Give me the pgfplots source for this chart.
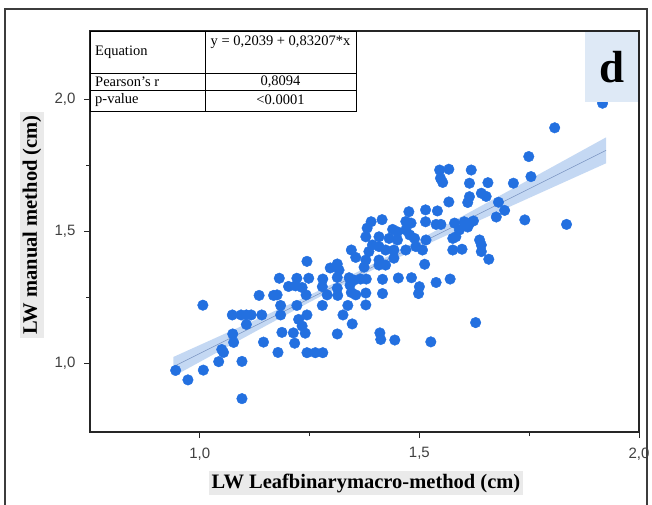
\documentclass[border=0pt]{standalone}
\usepackage{pgfplots}
\pgfplotsset{compat=1.18}
\usepackage{fontspec}
\setmainfont{Liberation Serif}
\newfontfamily\arial{Liberation Sans}

\definecolor{ptblue}{RGB}{35,112,224}
\definecolor{bandblue}{RGB}{196,216,243}
\definecolor{fitline}{RGB}{125,150,195}
\definecolor{dbox}{RGB}{222,233,246}
\definecolor{labelbg}{RGB}{234,234,234}
\definecolor{framegray}{RGB}{60,60,60}

% leaf width: Leafbinarymacro method (x) vs manual method (y), cm
\pgfplotstableread{
x y
0.945 0.972
0.973 0.936
1.008 0.973
1.007 1.219
1.043 1.005
1.050 1.051
1.054 1.040
1.075 1.110
1.077 1.078
1.096 1.006
1.096 0.865
1.074 1.182
1.094 1.182
1.106 1.182
1.117 1.182
1.141 1.182
1.106 1.146
1.145 1.079
1.135 1.256
1.168 1.256
1.176 1.258
1.181 1.321
1.202 1.290
1.218 1.292
1.233 1.286
1.184 1.218
1.184 1.182
1.221 1.218
1.225 1.165
1.233 1.140
1.187 1.116
1.213 1.114
1.178 1.040
1.216 1.075
1.221 1.321
1.244 1.385
1.248 1.321
1.242 1.258
1.244 1.182
1.240 1.113
1.244 1.039
1.263 1.039
1.280 1.039
1.279 1.218
1.279 1.289
1.280 1.318
1.297 1.360
1.313 1.375
1.317 1.352
1.313 1.324
1.313 1.283
1.290 1.258
1.314 1.256
1.313 1.110
1.326 1.182
1.347 1.148
1.337 1.218
1.340 1.323
1.351 1.314
1.366 1.318
1.379 1.318
1.342 1.295
1.345 1.267
1.355 1.258
1.378 1.265
1.378 1.220
1.416 1.263
1.410 1.114
1.412 1.089
1.444 1.087
1.345 1.428
1.355 1.400
1.378 1.478
1.381 1.511
1.390 1.535
1.415 1.543
1.385 1.422
1.393 1.447
1.408 1.441
1.423 1.428
1.408 1.478
1.431 1.472
1.450 1.466
1.439 1.506
1.450 1.497
1.469 1.536
1.481 1.530
1.476 1.573
1.469 1.504
1.478 1.485
1.489 1.472
1.442 1.428
1.469 1.428
1.492 1.441
1.378 1.390
1.408 1.390
1.442 1.397
1.374 1.363
1.423 1.371
1.408 1.371
1.416 1.317
1.452 1.322
1.482 1.323
1.498 1.263
1.500 1.289
1.512 1.374
1.507 1.428
1.515 1.466
1.514 1.535
1.514 1.580
1.541 1.576
1.538 1.525
1.549 1.525
1.580 1.530
1.602 1.535
1.614 1.529
1.623 1.538
1.610 1.515
1.591 1.504
1.583 1.478
1.576 1.472
1.576 1.428
1.597 1.431
1.637 1.466
1.641 1.447
1.641 1.422
1.658 1.393
1.538 1.305
1.570 1.318
1.628 1.153
1.526 1.080
1.546 1.731
1.567 1.734
1.618 1.731
1.548 1.700
1.553 1.684
1.614 1.681
1.656 1.683
1.714 1.681
1.641 1.643
1.652 1.631
1.614 1.630
1.610 1.608
1.567 1.610
1.680 1.609
1.694 1.578
1.675 1.553
1.740 1.542
1.749 1.782
1.754 1.706
1.808 1.891
1.917 1.984
1.835 1.525
}\lwdata

% linear fit y = 0.2039 + 0.83207 x
\pgfplotstableread{
x fit
0.940 0.9861
1.925 1.8056
}\fitline

% 95% confidence band of the fit: upper edge left to right, lower edge back
\pgfplotstableread{
x y
0.940 1.0230
1.050 1.1056
1.150 1.1811
1.250 1.2576
1.350 1.3372
1.450 1.4231
1.550 1.5127
1.650 1.6035
1.750 1.6947
1.850 1.7861
1.925 1.8547
1.925 1.7565
1.850 1.7003
1.750 1.6253
1.650 1.5501
1.550 1.4745
1.450 1.3977
1.350 1.3172
1.250 1.2304
1.150 1.1405
1.050 1.0496
0.940 0.9492
}\fitband

\begin{document}
\begin{tikzpicture}
\path[use as bounding box] (0pt,0pt) rectangle (652pt,504pt);
% outer frame of the panel
\draw[framegray, line width=1.3pt] (5pt,-5pt) -- (5pt,495pt) -- (647pt,495pt) -- (647pt,-5pt);

\begin{axis}[
  at={(90pt,72pt)}, anchor=south west,
  scale only axis, width=549pt, height=401pt,
  xmin=0.75, xmax=2.0, ymin=0.7386, ymax=2.2576,
  xtick={1,1.5,2}, ytick={1,1.5,2},
  minor xtick={1.25,1.75}, minor ytick={1.25,1.75},
  tick pos=left, tick align=outside,
  major tick length=6pt, minor tick length=4pt,
  every tick/.style={black!85, line width=0.9pt},
  axis line style={black!85, line width=1.2pt},
  tick label style={font=\arial\fontsize{15}{17}\selectfont, text=black!75},
  xticklabel style={yshift=-6pt},
  yticklabel style={xshift=-5pt},
  /pgf/number format/fixed,
  /pgf/number format/fixed zerofill,
  /pgf/number format/precision=1,
  /pgf/number format/use comma,
  /pgf/number format/assume math mode=true,
]
\addplot[fill=bandblue, draw=none, forget plot] table[x=x, y=y] {\fitband};
\addplot[fitline, line width=0.6pt] table[x=x, y=fit] {\fitline};
\addplot[only marks, mark=*, mark size=5.3pt, ptblue,
  mark options={draw=ptblue, fill=ptblue}] table[x=x, y=y] {\lwdata};
\end{axis}

\begin{scope}[x=1pt, y=1pt]
% statistics table in the upper-left corner
\fill[white] (90,473) rectangle (356,393);
\draw[black, line width=0.8pt] (90,473) rectangle (356,393);
\draw[black, line width=0.8pt] (205,473) -- (205,393);
\draw[black, line width=0.8pt] (90,431) -- (356,431);
\draw[black, line width=0.8pt] (90,414) -- (356,414);
\begin{scope}[every node/.style={font=\fontsize{14.5}{16}\selectfont, inner sep=0pt}]
\node[anchor=west] at (95,452) {Equation};
\node at (280.5,462) {y = 0,2039 + 0,83207*x};
\node[anchor=west] at (95,422.5) {Pearson's r};
\node at (280.5,422.5) {0,8094};
\node[anchor=west] at (95,404) {p-value};
\node at (280.5,404) {\textless0.0001};
\end{scope}

% panel letter
\fill[dbox] (585,472) rectangle (638,402);
\node[font=\bfseries\fontsize{45}{45}\selectfont, inner sep=0pt] at (612,437) {d};

% axis titles
\node[fill=labelbg, inner sep=3pt, font=\bfseries\fontsize{20.5}{22}\selectfont]
  at (366,21) {LW Leafbinarymacro-method (cm)};
\node[fill=labelbg, inner sep=3pt, rotate=90, font=\bfseries\fontsize{20.5}{22}\selectfont]
  at (32,279) {LW manual method (cm)};
\end{scope}
\end{tikzpicture}
\end{document}
